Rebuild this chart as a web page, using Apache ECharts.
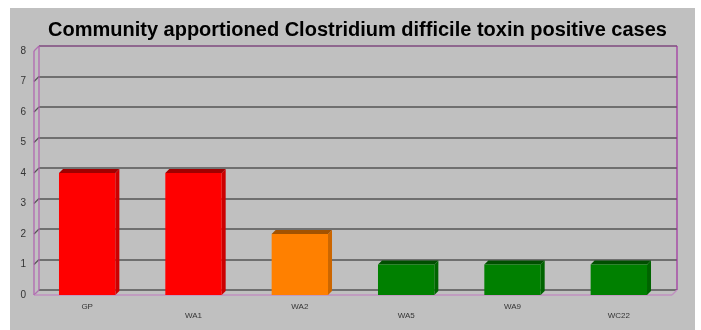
<!DOCTYPE html>
<html><head><meta charset="utf-8">
<script src="https://cdn.jsdelivr.net/npm/echarts@6/dist/echarts.min.js"></script>
<style>html,body{margin:0;padding:0;background:#fff}#c{width:701px;height:330px}</style>
</head><body><div id="c"></div>
<script>
const categories = ['GP', 'WA1', 'WA2', 'WA5', 'WA9', 'WC22'];
const values = [4, 4, 2, 1, 1, 1];
const barColors = ['red', 'red', 'orange', 'green', 'green', 'green'];
const yTicks = [0, 1, 2, 3, 4, 5, 6, 7, 8];
const titleText = 'Community apportioned Clostridium difficile toxin positive cases';

const palette = {
  red:    { front: '#ff0000', top: '#a00000', side: '#cc0000' },
  orange: { front: '#ff8000', top: '#a35200', side: '#cc6600' },
  green:  { front: '#008000', top: '#004f00', side: '#006400' }
};
const D = 5;   // wall depth
const BD = 4;  // bar depth

const chart = echarts.init(document.getElementById('c'), null, { renderer: 'canvas' });
chart.setOption({
  animation: false,
  backgroundColor: '#fff',
  graphic: [{ type: 'rect', left: 10, top: 8, shape: { width: 685, height: 322 }, style: { fill: '#c0c0c0' }, z: -10 }],
  title: {
    text: titleText, left: 43, top: 15,
    textStyle: { fontFamily: 'Liberation Sans, Arial', fontWeight: 'bold', fontSize: 20, color: '#000' }
  },
  grid: [
    { left: 34, top: 51, right: 29, bottom: 35 },
    { left: 39, top: 46, right: 24, bottom: 40 }
  ],
  xAxis: [
    { type: 'category', data: categories, gridIndex: 0,
      axisLine: { show: false }, axisTick: { show: false },
      axisLabel: { interval: 0, margin: 8, fontFamily: 'Liberation Sans, Arial', fontSize: 8, color: '#333',
        formatter: (v, i) => i % 2 ? '{b|' + v + '}' : '{a|' + v + '}',
        rich: { a: { fontSize: 8, color: '#333', padding: [0, 0, 0, 0] }, b: { fontSize: 8, color: '#333', padding: [9, 0, 0, 0] } } } },
    { type: 'category', data: categories, gridIndex: 1, show: false }
  ],
  yAxis: [
    { type: 'value', gridIndex: 0, min: 0, max: 8, interval: 1,
      axisLine: { show: false }, axisTick: { show: false }, splitLine: { show: false },
      axisLabel: { margin: 8, fontFamily: 'Liberation Sans, Arial', fontSize: 10, color: '#333' } },
    { type: 'value', gridIndex: 1, min: 0, max: 8, interval: 1,
      axisLine: { show: false }, axisTick: { show: false }, axisLabel: { show: false },
      splitLine: { show: true, lineStyle: { color: '#555555', width: 1.6 } } }
  ],
  series: [
    { // walls
      type: 'custom', xAxisIndex: 0, yAxisIndex: 0, silent: true, z: 1,
      data: yTicks.map(v => [0, v]),
      renderItem: (params, api) => {
        const cs = params.coordSys;
        const y = api.coord([0, api.value(1)])[1];
        const v = api.value(1);
        const children = [];
        const isEdge = v === 0 || v === 8;
        children.push({ type: 'line', shape: { x1: cs.x, y1: y, x2: cs.x + D, y2: y - D },
          style: { stroke: isEdge ? '#b070b0' : '#555555', lineWidth: 1.2 } });
        if (v === 8) {
          children.push({ type: 'line', shape: { x1: cs.x, y1: y, x2: cs.x, y2: cs.y + cs.height }, style: { stroke: '#b060b0', lineWidth: 1.2 } });
          children.push({ type: 'line', shape: { x1: cs.x + D, y1: y - D, x2: cs.x + D, y2: cs.y + cs.height - D }, style: { stroke: '#b060b0', lineWidth: 1.2 } });
          children.push({ type: 'line', shape: { x1: cs.x + D, y1: y - D, x2: cs.x + cs.width + D, y2: y - D }, style: { stroke: '#b060b0', lineWidth: 1.2 } });
          children.push({ type: 'line', shape: { x1: cs.x + cs.width + D, y1: y - D, x2: cs.x + cs.width + D, y2: cs.y + cs.height - D }, style: { stroke: '#a030a0', lineWidth: 1.2 } });
        }
        if (v === 0) {
          children.push({ type: 'line', shape: { x1: cs.x, y1: y, x2: cs.x + cs.width, y2: y }, style: { stroke: '#c090c0', lineWidth: 1.5 } });
          children.push({ type: 'line', shape: { x1: cs.x + cs.width, y1: y, x2: cs.x + cs.width + D, y2: y - D }, style: { stroke: '#c090c0', lineWidth: 1.5 } });
        }
        return { type: 'group', children };
      }
    },
    { // 3D bars
      type: 'custom', xAxisIndex: 0, yAxisIndex: 0, z: 5,
      data: values.map((v, i) => [i, v]),
      renderItem: (params, api) => {
        const i = api.value(0), v = api.value(1);
        const top = api.coord([i, v]);
        const base = api.coord([i, 0]);
        const w = api.size([1, 0])[0] * 0.53;
        const x0 = top[0] - w / 2, x1 = top[0] + w / 2, yt = top[1], yb = base[1];
        const c = palette[barColors[params.dataIndex]];
        return { type: 'group', children: [
          { type: 'polygon', shape: { points: [[x1, yt], [x1 + BD, yt - BD], [x1 + BD, yb - BD], [x1, yb]] }, style: { fill: c.side } },
          { type: 'polygon', shape: { points: [[x0, yt], [x1, yt], [x1 + BD, yt - BD], [x0 + BD, yt - BD]] }, style: { fill: c.top } },
          { type: 'rect', shape: { x: x0, y: yt, width: w, height: yb - yt }, style: { fill: c.front } }
        ] };
      }
    }
  ]
});
</script></body></html>
